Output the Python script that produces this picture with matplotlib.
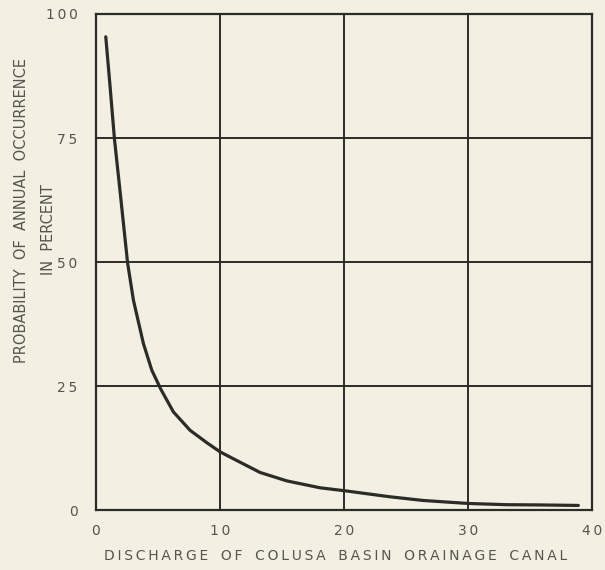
import matplotlib
matplotlib.use("Agg")
import matplotlib.pyplot as plt

# Discharge (x) vs. probability of annual occurrence (%)
discharge = [0.82, 1.17, 1.52, 1.97, 2.58, 3.05, 3.85, 4.53, 5.25, 6.27, 7.61, 8.96,
             10.03, 11.38, 13.25, 15.4, 18.1, 20.1, 23.7, 26.4, 30.0, 33.1, 35.8, 38.9]
probability = [95.4, 85.3, 74.8, 64.3, 49.8, 42.3, 33.6, 28.2, 24.4, 19.8, 16.1, 13.6,
               11.75, 10.0, 7.6, 5.9, 4.5, 3.9, 2.7, 1.95, 1.35, 1.1, 1.05, 0.95]

x_ticks = [0, 10, 20, 30, 40]
y_ticks = [0, 25, 50, 75, 100]

bg = "#f3f0e3"
ink = "#2b2b28"
txt = "#55554f"

SP = "\u2009"


def spaced(s, gap=SP, word=SP * 3 + " "):
    """Letter-spaced text: small gaps between glyphs, wider gaps between words."""
    return word.join(gap.join(w) for w in s.split(" "))


fig = plt.figure(figsize=(6.05, 5.7), dpi=100, facecolor=bg)
ax = fig.add_axes([0.158, 0.105, 0.8205, 0.8705], facecolor=bg)

ax.plot(discharge, probability, color=ink, lw=2.3, solid_capstyle="round",
        solid_joinstyle="round", zorder=3)

ax.set_xlim(0, 40)
ax.set_ylim(0, 100)
ax.set_xticks(x_ticks)
ax.set_yticks(y_ticks)
ax.set_xticklabels([spaced(str(v)) for v in x_ticks])
ax.set_yticklabels([spaced(str(v)) for v in y_ticks])
ax.grid(True, color=ink, lw=1.4)
ax.set_axisbelow(True)
for s in ax.spines.values():
    s.set_color(ink)
    s.set_linewidth(1.6)
ax.tick_params(length=0, labelsize=10, labelcolor=txt)
ax.tick_params(axis="x", pad=10)
ax.tick_params(axis="y", pad=13)

fig.text(0.555, 0.0246, spaced("DISCHARGE OF COLUSA BASIN ORAINAGE CANAL"),
         ha="center", va="center", fontsize=10, color=txt)
fig.text(0.036, 0.63, spaced("PROBABILITY OF ANNUAL OCCURRENCE", gap="", word="  "),
         ha="center", va="center", rotation=90, fontsize=10.5, color=txt)
fig.text(0.080, 0.598, spaced("IN PERCENT", gap="", word="  "),
         ha="center", va="center", rotation=90, fontsize=10.5, color=txt)

fig.savefig("out.png", dpi=100, facecolor=bg)
